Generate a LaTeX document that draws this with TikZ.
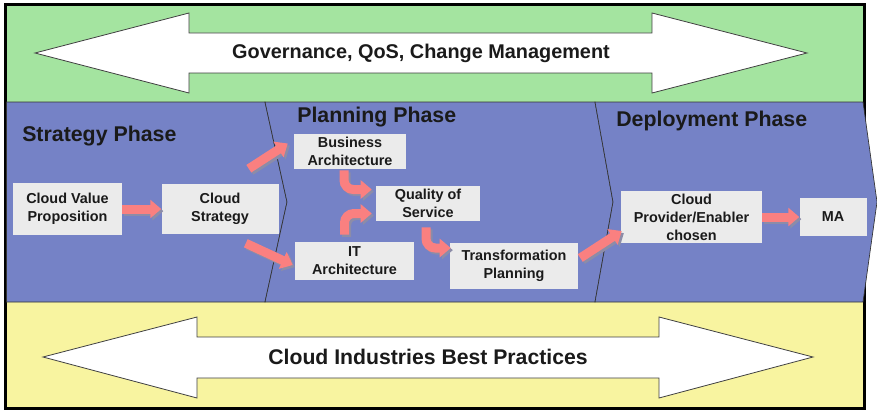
\documentclass[tikz,border=0pt]{standalone}
\usepackage{fontspec}
\setmainfont{Liberation Sans}
\usetikzlibrary{positioning}
\usetikzlibrary{calc}
\usetikzlibrary{arrows.meta}
\definecolor{govgreen}{HTML}{A4E4A0}
\definecolor{phaseblue}{HTML}{7582C6}
\definecolor{bestyellow}{HTML}{F8F4A0}
\definecolor{boxgrey}{HTML}{EBEBEB}
\definecolor{arrowpink}{HTML}{FA8080}
\definecolor{arrowshade}{HTML}{8C8CA8}
\definecolor{inktext}{HTML}{1A1A1A}
\tikzset{
	box/.style={fill=boxgrey, inner sep=0pt, align=center, text=inktext, font=\fontsize{10.8}{13.5}\selectfont\bfseries},
	phasetitle/.style={anchor=west, inner sep=0pt, text=inktext, font=\fontsize{16}{19}\selectfont\bfseries},
	blockarrow/.style={draw=arrowpink, line width=6.75pt, -{Triangle[length=8.25pt,width=13.5pt]}},
	shadearrow/.style={blockarrow, draw=arrowshade, transform canvas={shift={(1.6pt,-1.6pt)}}},
	bigarrow/.style={draw=black!75, line width=0.6pt, fill=white},
	band/.style={fill=phaseblue, draw=black!80, line width=0.5pt}
}
\begin{document}
\begin{tikzpicture}[x=0.75pt, y=-0.75pt]
		\useasboundingbox (0,0) rectangle (877,410);
		\fill [govgreen] (5,5) rectangle (864,102);
		\fill [bestyellow] (5,302) rectangle (864,408);
		\draw [line width=2.25pt] (5,5) rectangle (864,408);
		
		% the three phase chevrons
		\draw [band] (6.5,102) -- (265,102) -- (287,202) -- (265,302) -- (6.5,302) -- cycle;
		\draw [band] (265,102) -- (595,102) -- (613,202) -- (595,302) -- (265,302) -- (287,202) -- cycle;
		\draw [band] (595,102) -- (863,102) -- (877,202) -- (863,302) -- (595,302) -- (613,202) -- cycle;
		
		\draw [bigarrow] (35,53) -- (189,13) -- (189,33) -- (652,33) -- (652,13) -- (807,53) -- (652,93) -- (652,73) -- (189,73) -- (189,93) -- cycle;
		\node [font=\fontsize{14.9}{17}\selectfont\bfseries, text=inktext] (gov) at (421,53) {Governance, QoS, Change Management};
		\draw [bigarrow] (43,357) -- (197,317) -- (197,337) -- (659,337) -- (659,317) -- (813,357) -- (659,398) -- (659,378) -- (197,378) -- (197,398) -- cycle;
		\node [font=\fontsize{15.9}{18}\selectfont\bfseries, text=inktext] (best) at (428,357) {Cloud Industries Best Practices};
		
		\node [phasetitle] (strategy) at (22,136) {Strategy Phase};
		\node [phasetitle] (planning) at (297,117) {Planning Phase};
		\node [phasetitle] (deploy) at (616,121) {Deployment Phase};
		
		\node [box, minimum width=81.75pt, minimum height=39pt] (cvp) at (67.5,209) {Cloud Value\\Proposition};
		\node [box, minimum width=87.75pt, minimum height=37.5pt, right=29.25pt of cvp] (cstrat) {Cloud\\Strategy};
		\node [box, minimum width=84pt, minimum height=26.25pt] (busarch) at (350,151.5) {Business\\Architecture};
		\node [box, minimum width=78pt, minimum height=26.25pt] (qos) at (428,203.5) {Quality of\\Service};
		\node [box, minimum width=89.25pt, minimum height=28.5pt] (itarch) at (354.5,261) {IT\\Architecture};
		\node [box, minimum width=96pt, minimum height=34.5pt] (transplan) at (514,266) {Transformation\\Planning};
		\node [box, minimum width=105.75pt, minimum height=39pt] (provider) at (691.5,217) {Cloud\\Provider/Enabler\\chosen};
		\node [box, minimum width=50.25pt, minimum height=28.5pt, right=27.75pt of provider] (ma) {MA};
		
		% grey shadow first, then the pink arrows on top
		\foreach \look in {shadearrow, blockarrow} {
			\draw [\look] (cvp.east) -- (cstrat.west);
			\draw [\look] ([shift={(-30,-15)}]cstrat.north east) -- ([shift={(-6,-8)}]busarch.west);
			\draw [\look] ([shift={(-33,9)}]cstrat.south east) -- ([shift={(-2,4)}]itarch.west);
			\draw [\look, rounded corners=7pt] ([shift={(-6,1)}]busarch.south) |- ([shift={(-4,-14)}]qos.west);
			\draw [\look, rounded corners=7pt] ([shift={(-10,-7)}]itarch.north) |- ([shift={(-4,10)}]qos.west);
			\draw [\look, rounded corners=7pt] ([shift={(-2,6)}]qos.south) |- ([shift={(1,-18)}]transplan.west);
			\draw [\look] ([shift={(2,-8)}]transplan.east) -- ([shift={(1,14)}]provider.west);
			\draw [\look] (provider.east) -- (ma.west);
		}
\end{tikzpicture}
\end{document}
